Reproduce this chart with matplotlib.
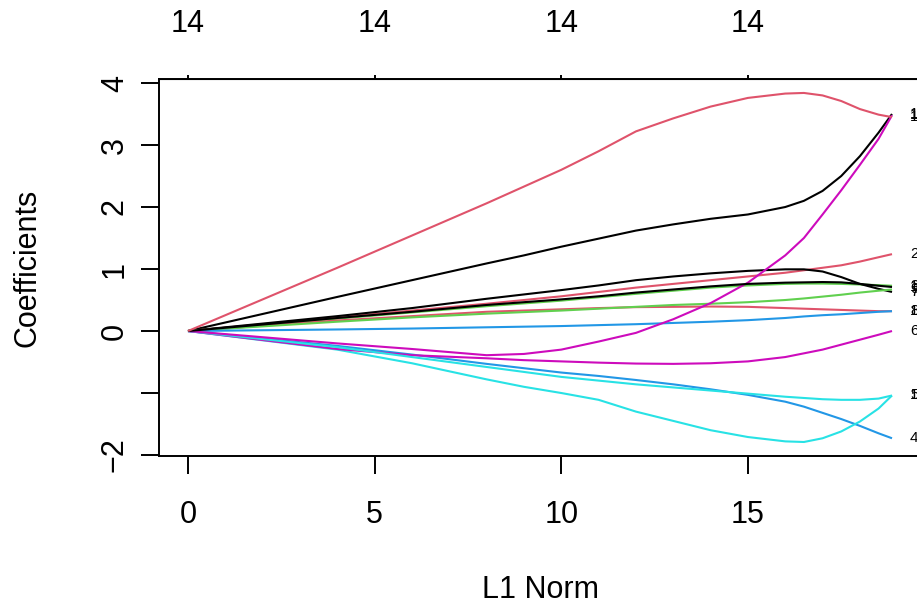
import matplotlib
matplotlib.use("Agg")
import matplotlib.pyplot as plt

plt.rcParams['font.family'] = ['Liberation Sans', 'DejaVu Sans']

l1_norm = [0, 4, 6, 8, 9, 10, 11, 12, 13, 14, 15, 16, 16.5, 17, 17.5, 18, 18.5, 18.86]

coef_1 = [0, 0.55, 0.82, 1.09, 1.22, 1.36, 1.49, 1.62, 1.72, 1.81, 1.88, 2.00, 2.10, 2.26, 2.50, 2.82, 3.20, 3.50]
coef_2 = [0, 0.22, 0.33, 0.44, 0.50, 0.56, 0.63, 0.70, 0.76, 0.82, 0.88, 0.94, 0.98, 1.02, 1.06, 1.12, 1.19, 1.24]
coef_3 = [0, 0.20, 0.30, 0.40, 0.445, 0.49, 0.545, 0.60, 0.65, 0.70, 0.735, 0.76, 0.765, 0.765, 0.76, 0.75, 0.74, 0.73]
coef_4 = [0, -0.24, -0.38, -0.53, -0.60, -0.67, -0.725, -0.79, -0.86, -0.94, -1.03, -1.14, -1.22, -1.32, -1.42, -1.53, -1.65, -1.73]
coef_5 = [0, -0.30, -0.52, -0.78, -0.90, -1.00, -1.11, -1.30, -1.45, -1.60, -1.71, -1.78, -1.79, -1.73, -1.62, -1.46, -1.25, -1.04]
coef_6 = [0, -0.29, -0.39, -0.44, -0.47, -0.49, -0.51, -0.525, -0.53, -0.52, -0.49, -0.42, -0.36, -0.30, -0.22, -0.14, -0.06, 0.0]
coef_7 = [0, 0.24, 0.37, 0.52, 0.59, 0.66, 0.735, 0.82, 0.88, 0.93, 0.97, 0.995, 0.995, 0.96, 0.87, 0.76, 0.68, 0.63]
coef_8 = [0, 0.17, 0.24, 0.31, 0.33, 0.35, 0.37, 0.385, 0.39, 0.395, 0.39, 0.37, 0.36, 0.35, 0.34, 0.33, 0.32, 0.32]
coef_9 = [0, 0.15, 0.22, 0.28, 0.305, 0.33, 0.36, 0.39, 0.42, 0.44, 0.465, 0.50, 0.525, 0.555, 0.585, 0.62, 0.65, 0.67]
coef_10 = [0, 0.025, 0.04, 0.06, 0.07, 0.08, 0.095, 0.11, 0.13, 0.15, 0.175, 0.21, 0.235, 0.255, 0.27, 0.29, 0.31, 0.32]
coef_11 = [0, -0.26, -0.42, -0.58, -0.66, -0.74, -0.80, -0.86, -0.91, -0.96, -1.01, -1.06, -1.08, -1.10, -1.11, -1.11, -1.09, -1.04]
coef_12 = [0, -0.20, -0.29, -0.39, -0.37, -0.30, -0.17, -0.03, 0.19, 0.45, 0.78, 1.22, 1.50, 1.88, 2.27, 2.68, 3.10, 3.48]
coef_13 = [0, 0.21, 0.31, 0.42, 0.465, 0.51, 0.56, 0.62, 0.67, 0.72, 0.76, 0.78, 0.785, 0.79, 0.785, 0.76, 0.73, 0.71]
coef_14 = [0, 1.02, 1.54, 2.06, 2.33, 2.60, 2.90, 3.22, 3.43, 3.62, 3.76, 3.83, 3.84, 3.80, 3.71, 3.58, 3.49, 3.45]

paths = [coef_1, coef_2, coef_3, coef_4, coef_5, coef_6, coef_7,
         coef_8, coef_9, coef_10, coef_11, coef_12, coef_13, coef_14]

x_ticks = [0, 5, 10, 15]
df_labels = ['14', '14', '14', '14']
y_ticks = [-2, -1, 0, 1, 2, 3, 4]
y_labels = ['\u22122', '', '0', '1', '2', '3', '4']

# R default palette, matplot cycles 1:6
palette = ['#000000', '#DF536B', '#61D04F', '#2297E6', '#28E2E5', '#CD0BBC']

fig = plt.figure(figsize=(9.17, 6.10), dpi=100)
ax = fig.add_axes([159/917, 1-456/610, (920-159)/917, (456-79)/610])

for i, coef in enumerate(paths):
    ax.plot(l1_norm, coef, color=palette[i % 6], lw=1.5, solid_capstyle='butt')
    ax.annotate(str(i+1), xy=(l1_norm[-1], coef[-1]), xytext=(13, 0),
                textcoords='offset points', fontsize=11, va='center', ha='left',
                annotation_clip=False)

ax.set_xlim(-0.777, 19.61)
ax.set_ylim(-2.016, 4.065)

for s in ax.spines.values():
    s.set_linewidth(1.4)

ax.set_xticks(x_ticks)
ax.set_yticks(y_ticks)
ax.set_yticklabels(y_labels)
ax.tick_params(direction='out', length=13, width=1.4, labelsize=22)
ax.tick_params(axis='x', pad=19)
ax.tick_params(axis='y', pad=8)
for lab in ax.get_yticklabels():
    lab.set_rotation(90)
    lab.set_va('center')

top = ax.secondary_xaxis('top')
top.set_xticks(x_ticks)
top.set_xticklabels(df_labels)
top.tick_params(direction='out', length=3, width=1.4, labelsize=22, pad=26)

fig.text(28/917, 1-268/610, 'Coefficients', rotation=90, ha='center', va='center', fontsize=22)
fig.text(540/917, 1-590/610, 'L1 Norm', ha='center', va='center', fontsize=22)

fig.savefig('out.png', dpi=100)
